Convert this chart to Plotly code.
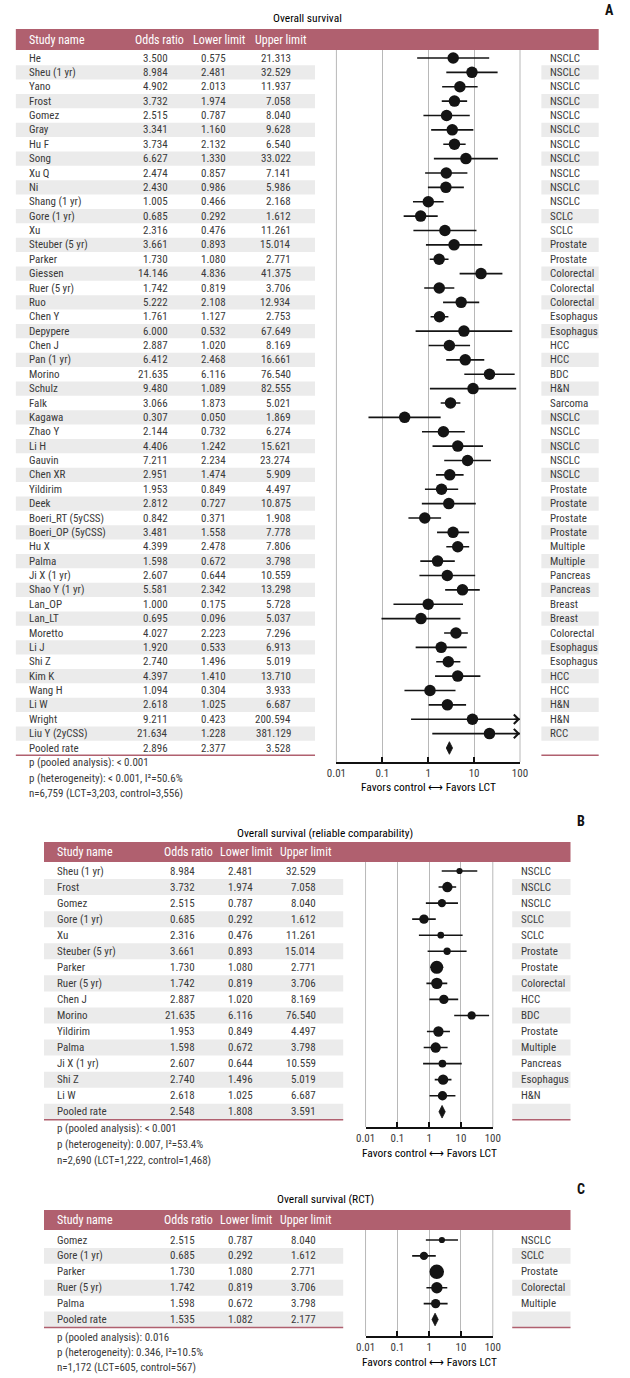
import math
import plotly.graph_objects as go

W, H = 630, 1378

# ---------------- data ----------------
a_study = ["He", "Sheu (1 yr)", "Yano", "Frost", "Gomez", "Gray", "Hu F", "Song", "Xu Q", "Ni",
           "Shang (1 yr)", "Gore (1 yr)", "Xu", "Steuber (5 yr)", "Parker", "Giessen", "Ruer (5 yr)",
           "Ruo", "Chen Y", "Depypere", "Chen J", "Pan (1 yr)", "Morino", "Schulz", "Falk", "Kagawa",
           "Zhao Y", "Li H", "Gauvin", "Chen XR", "Yildirim", "Deek", "Boeri_RT (5yCSS)",
           "Boeri_OP (5yCSS)", "Hu X", "Palma", "Ji X (1 yr)", "Shao Y (1 yr)", "Lan_OP", "Lan_LT",
           "Moretto", "Li J", "Shi Z", "Kim K", "Wang H", "Li W", "Wright", "Liu Y (2yCSS)"]
a_or = [3.500, 8.984, 4.902, 3.732, 2.515, 3.341, 3.734, 6.627, 2.474, 2.430, 1.005, 0.685, 2.316,
        3.661, 1.730, 14.146, 1.742, 5.222, 1.761, 6.000, 2.887, 6.412, 21.635, 9.480, 3.066, 0.307,
        2.144, 4.406, 7.211, 2.951, 1.953, 2.812, 0.842, 3.481, 4.399, 1.598, 2.607, 5.581, 1.000,
        0.695, 4.027, 1.920, 2.740, 4.397, 1.094, 2.618, 9.211, 21.634]
a_lo = [0.575, 2.481, 2.013, 1.974, 0.787, 1.160, 2.132, 1.330, 0.857, 0.986, 0.466, 0.292, 0.476,
        0.893, 1.080, 4.836, 0.819, 2.108, 1.127, 0.532, 1.020, 2.468, 6.116, 1.089, 1.873, 0.050,
        0.732, 1.242, 2.234, 1.474, 0.849, 0.727, 0.371, 1.558, 2.478, 0.672, 0.644, 2.342, 0.175,
        0.096, 2.223, 0.533, 1.496, 1.410, 0.304, 1.025, 0.423, 1.228]
a_hi = [21.313, 32.529, 11.937, 7.058, 8.040, 9.628, 6.540, 33.022, 7.141, 5.986, 2.168, 1.612,
        11.261, 15.014, 2.771, 41.375, 3.706, 12.934, 2.753, 67.649, 8.169, 16.661, 76.540, 82.555,
        5.021, 1.869, 6.274, 15.621, 23.274, 5.909, 4.497, 10.875, 1.908, 7.778, 7.806, 3.798,
        10.559, 13.298, 5.728, 5.037, 7.296, 6.913, 5.019, 13.710, 3.933, 6.687, 200.594, 381.129]
a_cat = ["NSCLC"] * 11 + ["SCLC", "SCLC", "Prostate", "Prostate", "Colorectal", "Colorectal",
         "Colorectal", "Esophagus", "Esophagus", "HCC", "HCC", "BDC", "H&N", "Sarcoma", "NSCLC",
         "NSCLC", "NSCLC", "NSCLC", "NSCLC", "Prostate", "Prostate", "Prostate", "Prostate",
         "Multiple", "Multiple", "Pancreas", "Pancreas", "Breast", "Breast", "Colorectal",
         "Esophagus", "Esophagus", "HCC", "HCC", "H&N", "H&N", "RCC"]
a_weight = [1.0] * 48
a_pooled = [2.896, 2.377, 3.528]
a_stats = ["p (pooled analysis): < 0.001", "p (heterogeneity): < 0.001, I²=50.6%",
           "n=6,759 (LCT=3,203, control=3,556)"]

b_study = ["Sheu (1 yr)", "Frost", "Gomez", "Gore (1 yr)", "Xu", "Steuber (5 yr)", "Parker",
           "Ruer (5 yr)", "Chen J", "Morino", "Yildirim", "Palma", "Ji X (1 yr)", "Shi Z", "Li W"]
b_or = [8.984, 3.732, 2.515, 0.685, 2.316, 3.661, 1.730, 1.742, 2.887, 21.635, 1.953, 1.598, 2.607, 2.740, 2.618]
b_lo = [2.481, 1.974, 0.787, 0.292, 0.476, 0.893, 1.080, 0.819, 1.020, 6.116, 0.849, 0.672, 0.644, 1.496, 1.025]
b_hi = [32.529, 7.058, 8.040, 1.612, 11.261, 15.014, 2.771, 3.706, 8.169, 76.540, 4.497, 3.798, 10.559, 5.019, 6.687]
b_cat = ["NSCLC", "NSCLC", "NSCLC", "SCLC", "SCLC", "Prostate", "Prostate", "Colorectal", "HCC",
         "BDC", "Prostate", "Multiple", "Pancreas", "Esophagus", "H&N"]
b_weight = [2.9, 8.1, 5.2, 6.6, 3.4, 4.0, 12.7, 9.8, 6.6, 5.2, 8.1, 8.1, 4.5, 8.1, 6.6]
b_pooled = [2.548, 1.808, 3.591]
b_stats = ["p (pooled analysis): < 0.001", "p (heterogeneity): 0.007, I²=53.4%",
           "n=2,690 (LCT=1,222, control=1,468)"]

c_study = ["Gomez", "Gore (1 yr)", "Parker", "Ruer (5 yr)", "Palma"]
c_or = [2.515, 0.685, 1.730, 1.742, 1.598]
c_lo = [0.787, 0.292, 1.080, 0.819, 0.672]
c_hi = [8.040, 1.612, 2.771, 3.706, 3.798]
c_cat = ["NSCLC", "SCLC", "Prostate", "Colorectal", "Multiple"]
c_weight = [7.2, 12.9, 39.4, 24.3, 16.3]
c_pooled = [1.535, 1.082, 2.177]
c_stats = ["p (pooled analysis): 0.016", "p (heterogeneity): 0.346, I²=10.5%",
           "n=1,172 (LCT=605, control=567)"]

headers = ["Study name", "Odds ratio", "Lower limit", "Upper limit"]
tick_vals = [0.01, 0.1, 1, 10, 100]
tick_text = ["0.01", "0.1", "1", "10", "100"]
favors_text = "Favors control \u27f7 Favors LCT"

# ---------------- style / layout ----------------
FONT = "Liberation Sans Narrow, Roboto Condensed, DejaVu Sans Condensed, Arial Narrow, sans-serif"
MAUVE = "#b0606f"
SHADE = "#ebebeb"
TXT = "#3a3a3a"
DARK = "#141414"
GRID = "#b8b8b8"

panels = [
    dict(letter="A", title="Overall survival", study=a_study, odds=a_or, lo=a_lo, hi=a_hi,
         cat=a_cat, weight=a_weight, pooled=a_pooled, stats=a_stats, maxsize=11.5,
         letter_xy=(617, 10), title_xy=(306, 18), band=(6, 606, 29, 50), table_x1=314,
         cat_band=(547, 606), name_x=17, num_x=(165, 224, 291), hdr_x=(127, 186, 250),
         cat_x=554, row0=58, pitch=14.375, axis_y=762, plot_x=(336, 525),
         fav_y=787, stats_y=763, stats_dy=15),
    dict(letter="B", title="Overall survival (reliable comparability)", study=b_study, odds=b_or,
         lo=b_lo, hi=b_hi, cat=b_cat, weight=b_weight, pooled=b_pooled, stats=b_stats, maxsize=13,
         letter_xy=(588, 821), title_xy=(324, 833), band=(35, 577, 842, 862), table_x1=343,
         cat_band=(517, 577), name_x=46, num_x=(193, 252, 317), hdr_x=(156, 214, 276),
         cat_x=524, row0=871, pitch=16.05, axis_y=1127, plot_x=(366, 497),
         fav_y=1153, stats_y=1128, stats_dy=16),
    dict(letter="C", title="Overall survival (RCT)", study=c_study, odds=c_or, lo=c_lo, hi=c_hi,
         cat=c_cat, weight=c_weight, pooled=c_pooled, stats=c_stats, maxsize=14.5,
         letter_xy=(588, 1189), title_xy=(325, 1199), band=(35, 577, 1210, 1230), table_x1=343,
         cat_band=(517, 577), name_x=46, num_x=(193, 252, 317), hdr_x=(156, 214, 276),
         cat_x=524, row0=1240, pitch=15.9, axis_y=1336, plot_x=(366, 497),
         fav_y=1362, stats_y=1337, stats_dy=15.2),
]


def px(x):
    return x / W


def py(y):
    return 1 - y / H


fig = go.Figure()
shapes = []
annotations = []
layout_axes = {}

for k, p in enumerate(panels):
    sfx = "" if k == 0 else str(k + 1)
    xref, yref = "x" + sfx, "y" + sfx
    n = len(p["study"])
    nrows = n + 1
    bx0, bx1, by0, by1 = p["band"]
    r0, pitch = p["row0"], p["pitch"]
    ytop = (by1 - r0) / pitch
    ybot = (p["axis_y"] - r0) / pitch

    layout_axes["xaxis" + sfx] = dict(
        type="log", range=[-2.0, 2.0], domain=[px(p["plot_x"][0]), px(p["plot_x"][1])],
        anchor=yref, tickvals=tick_vals, ticktext=tick_text, ticks="inside", ticklen=5,
        tickwidth=1.5, tickcolor="#111", showline=True, linecolor="#111", linewidth=1.6,
        showgrid=True, gridcolor=GRID, gridwidth=1, zeroline=False, fixedrange=True,
        tickfont=dict(family=FONT, size=11, color=TXT))
    layout_axes["yaxis" + sfx] = dict(
        range=[ybot, ytop], domain=[py(p["axis_y"]), py(by1)], anchor=xref, visible=False,
        showgrid=False, zeroline=False, fixedrange=True)

    # edge grid lines (plot area borders at 0.01 and 100)
    for ex in (0, 1):
        shapes.append(dict(type="line", xref=xref + " domain", yref=yref + " domain", x0=ex, x1=ex,
                           y0=0, y1=1, line=dict(color=GRID, width=1), layer="below"))

    # header band
    shapes.append(dict(type="rect", xref="paper", yref="paper", x0=px(bx0), x1=px(bx1),
                       y0=py(by1), y1=py(by0), fillcolor=MAUVE, line=dict(width=0), layer="below"))
    hy = py((by0 + by1) / 2)
    annotations.append(dict(x=px(p["name_x"]), y=hy, xref="paper", yref="paper", text=headers[0],
                            xanchor="left", yanchor="middle", showarrow=False,
                            font=dict(family=FONT, size=12, color="white")))
    for hx, ht in zip(p["hdr_x"], headers[1:]):
        annotations.append(dict(x=px(hx), y=hy, xref="paper", yref="paper", text=ht,
                                xanchor="left", yanchor="middle", showarrow=False,
                                font=dict(family=FONT, size=12, color="white")))

    # title and letter
    annotations.append(dict(x=px(p["title_xy"][0]), y=py(p["title_xy"][1]), xref="paper", yref="paper",
                            text=p["title"], xanchor="center", yanchor="middle", showarrow=False,
                            font=dict(family=FONT, size=11.5, color="#000")))
    annotations.append(dict(x=px(p["letter_xy"][0]), y=py(p["letter_xy"][1]), xref="paper", yref="paper",
                            text="<b>%s</b>" % p["letter"], xanchor="center", yanchor="middle",
                            showarrow=False, font=dict(family=FONT, size=14, color="#111")))

    # rows
    names = p["study"] + ["Pooled rate"]
    ors = p["odds"] + [p["pooled"][0]]
    los = p["lo"] + [p["pooled"][1]]
    his = p["hi"] + [p["pooled"][2]]
    cats = p["cat"] + [""]
    for i in range(nrows):
        if i % 2 == 1:
            shapes.append(dict(type="rect", xref="paper", yref=yref, x0=px(bx0), x1=px(p["table_x1"]),
                               y0=i - 0.5, y1=i + 0.5, fillcolor=SHADE, line=dict(width=0), layer="below"))
            shapes.append(dict(type="rect", xref="paper", yref=yref, x0=px(p["cat_band"][0]),
                               x1=px(p["cat_band"][1]), y0=i - 0.5, y1=i + 0.5, fillcolor=SHADE,
                               line=dict(width=0), layer="below"))
        annotations.append(dict(x=px(p["name_x"]), y=i, xref="paper", yref=yref, text=names[i],
                                xanchor="left", yanchor="middle", showarrow=False,
                                font=dict(family=FONT, size=11, color=TXT)))
        for nx, v in zip(p["num_x"], (ors[i], los[i], his[i])):
            annotations.append(dict(x=px(nx), y=i, xref="paper", yref=yref, text="%.3f" % v,
                                    xanchor="right", yanchor="middle", showarrow=False,
                                    font=dict(family=FONT, size=11, color=TXT)))
        if cats[i]:
            annotations.append(dict(x=px(p["cat_x"]), y=i, xref="paper", yref=yref, text=cats[i],
                                    xanchor="left", yanchor="middle", showarrow=False,
                                    font=dict(family=FONT, size=11, color=TXT)))

    # bottom rule
    ry = r0 + (nrows - 0.5) * pitch
    for (x0, x1) in [(bx0, p["table_x1"]), p["cat_band"]]:
        shapes.append(dict(type="line", xref="paper", yref="paper", x0=px(x0), x1=px(x1),
                           y0=py(ry), y1=py(ry), line=dict(color=MAUVE, width=1.5)))

    # CI lines
    lx, ly = [], []
    for i in range(n):
        lx += [p["lo"][i], p["hi"][i], None]
        ly += [i, i, None]
    fig.add_trace(go.Scatter(x=lx, y=ly, mode="lines", xaxis=xref, yaxis=yref,
                             line=dict(color=DARK, width=1.6), hoverinfo="skip", showlegend=False))
    # arrows for CIs beyond the axis
    for i in range(n):
        if p["hi"][i] > tick_vals[-1]:
            annotations.append(dict(x=math.log10(tick_vals[-1]), y=i, xref=xref, yref=yref, text="",
                                    showarrow=True, ax=-7, ay=0, arrowhead=4, arrowsize=1.4,
                                    arrowwidth=1.3, arrowcolor=DARK, standoff=0))
    # study markers
    wmax = max(p["weight"])
    sizes = [p["maxsize"] * math.sqrt(w / wmax) for w in p["weight"]]
    fig.add_trace(go.Scatter(x=p["odds"], y=list(range(n)), mode="markers", xaxis=xref, yaxis=yref,
                             marker=dict(symbol="circle", size=sizes, color=DARK, opacity=1,
                                         line=dict(width=0)),
                             showlegend=False, hoverinfo="x+y"))
    # pooled diamond
    fig.add_trace(go.Scatter(x=[p["pooled"][0]], y=[n], mode="markers", xaxis=xref, yaxis=yref,
                             marker=dict(symbol="diamond-tall", size=9, color=DARK, opacity=1,
                                         line=dict(width=0.8, color=DARK)),
                             showlegend=False))

    # favors text
    cx = (p["plot_x"][0] + p["plot_x"][1]) / 2
    annotations.append(dict(x=px(cx), y=py(p["fav_y"]), xref="paper", yref="paper", text=favors_text,
                            xanchor="center", yanchor="middle", showarrow=False,
                            font=dict(family=FONT, size=11.5, color="#000")))
    # stats
    for j, s in enumerate(p["stats"]):
        annotations.append(dict(x=px(p["name_x"]), y=py(p["stats_y"] + j * p["stats_dy"]), xref="paper",
                                yref="paper", text=s, xanchor="left", yanchor="middle", showarrow=False,
                                font=dict(family=FONT, size=11, color=TXT)))

fig.update_layout(
    width=W, height=H, margin=dict(l=0, r=0, t=0, b=0), paper_bgcolor="white", plot_bgcolor="rgba(0,0,0,0)",
    font=dict(family=FONT, size=11, color=TXT), shapes=shapes, annotations=annotations, showlegend=False,
    **layout_axes)

fig.write_html("out.html", config={"displayModeBar": False},
               post_script="document.body.style.margin='0px';")
